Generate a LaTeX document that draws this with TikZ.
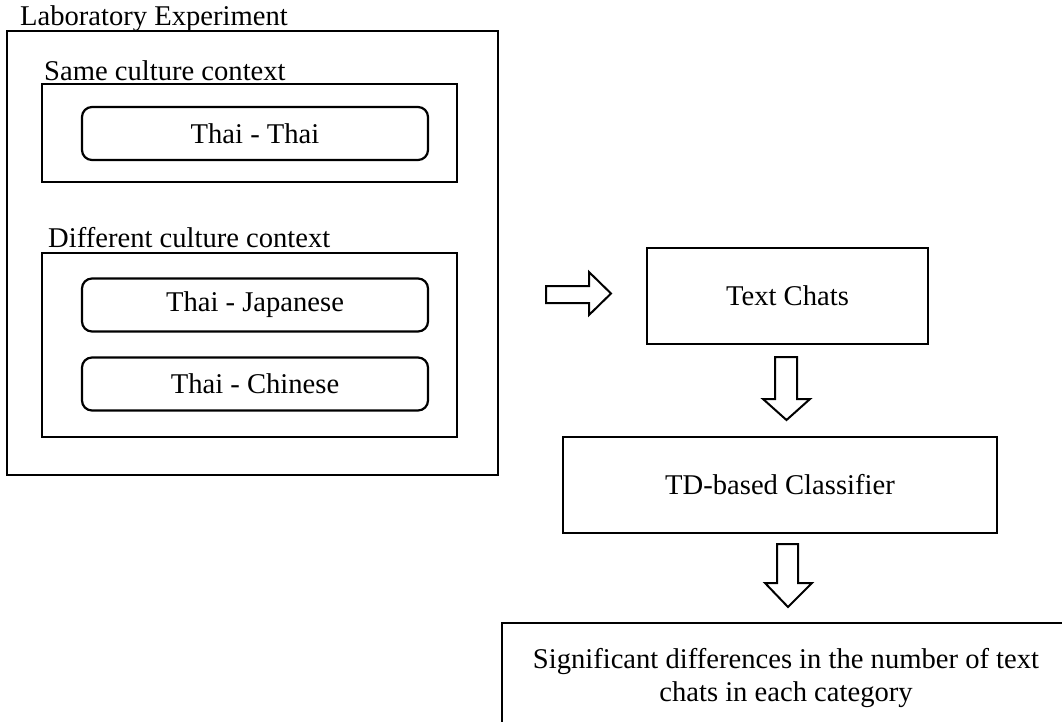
\documentclass[tikz,border=0pt]{standalone}
\usepackage{fontspec}
\setmainfont{Liberation Serif}
\begin{document}
\begin{tikzpicture}[x=1pt,y=-1pt,
  every node/.style={font=\fontsize{28.6}{33}\selectfont, inner sep=0pt},
  sqbox/.style={draw=black, line width=2.2pt, minimum width=#1},
  rbox/.style={draw=black, line width=2.2pt, rounded corners=10pt, minimum width=346pt, minimum height=53pt},
  blockarrow/.style={draw=black, line width=2pt, line join=miter, fill=white},
  caption/.style={anchor=base west}]
\useasboundingbox (0,0) rectangle (1062,721);
\clip (0,0) rectangle (1062,721);
% left group
\node[caption] (labt) at (20,25) {Laboratory Experiment};
\node[sqbox=491pt, minimum height=444pt] (lab) at (252.5,253) {};
\node[caption] (samet) at (44,80) {Same culture context};
\node[sqbox=415pt, minimum height=98pt] (same) at (249.5,133) {};
\node[rbox] (tt) at (255,133.5) {Thai - Thai};
\node[caption] (difft) at (48,247) {Different culture context};
\node[sqbox=415pt, minimum height=184pt] (diff) at (249.5,345) {};
\node[rbox] (tj) at (255,305) {Thai - Japanese};
\node[rbox] (tc) at (255,384) {Thai - Chinese};
% right flow
\node[sqbox=281pt, minimum height=96pt] (chats) at (787.5,296) {Text Chats};
\node[sqbox=434pt, minimum height=96pt] (td) at (780,485) {TD-based Classifier};
\node[sqbox=568pt, minimum height=137pt] (res) at (786,691.5) {};
\node[align=center] (restxt) at (786,678) {Significant differences in the number of text\\chats in each category};
% block arrows
\draw[blockarrow] (546,286) -- (589,286) -- (589,272) -- (611,293.5) -- (589,315) -- (589,303) -- (546,303) -- cycle;
\draw[blockarrow] (775,357) -- (797,357) -- (797,399) -- (810,399) -- (786.5,420) -- (763,399) -- (775,399) -- cycle;
\draw[blockarrow] (777,544) -- (798,544) -- (798,583) -- (812,583) -- (788,607) -- (765,583) -- (777,583) -- cycle;
\end{tikzpicture}
\end{document}
